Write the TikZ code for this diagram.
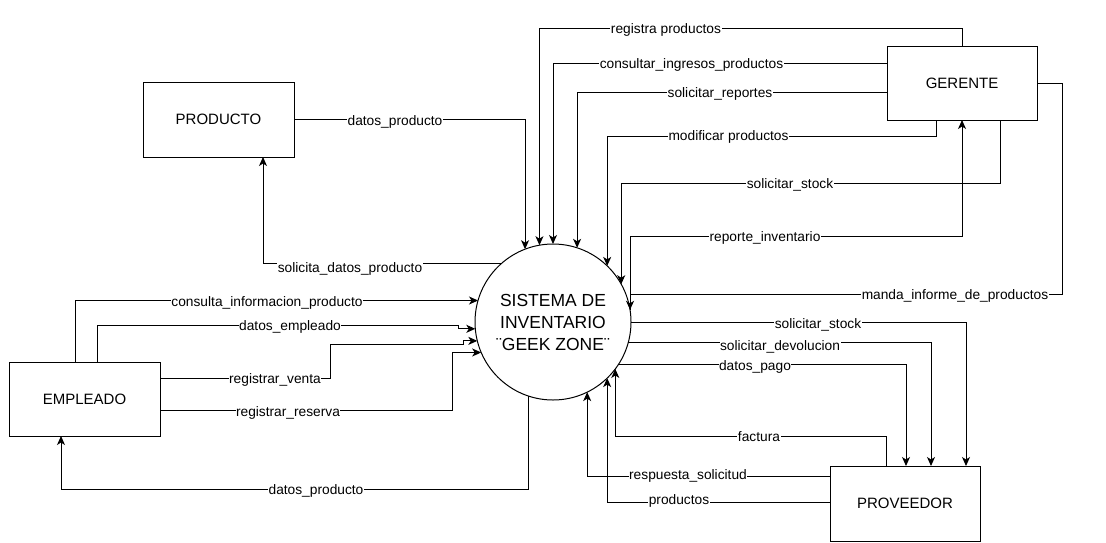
\documentclass[tikz,border=0pt]{standalone}
\usepackage{fontspec}
\setmainfont{Liberation Sans}
\usetikzlibrary{arrows.meta}
\begin{document}
\begin{tikzpicture}[x=1pt,y=-1pt,
  ent/.style={draw=black, line width=1pt, rectangle, minimum width=151pt, minimum height=75pt, inner sep=0pt, outer sep=0pt, font=\fontsize{15}{18}\selectfont},
  proc/.style={draw=black, line width=1pt, circle, minimum size=156pt, inner sep=0pt, outer sep=0pt, align=center, font=\fontsize{17.5}{22}\selectfont},
  flow/.style={draw=black, line width=1pt, -{Stealth[length=9pt,width=8pt,inset=2.5pt]}},
  lbl/.style={fill=white, inner sep=0.5pt, text height=11pt, text depth=0pt, font=\fontsize{13.75}{16}\selectfont}
]
\useasboundingbox (0,0) rectangle (1106,542);
\fill[white] (0,0) rectangle (1106,542);

% entities
\node[ent] (prod) at (218.5,119.5) {PRODUCTO};
\node[ent, minimum width=150pt, minimum height=74pt] (ger) at (962,83) {GERENTE};
\node[ent, minimum height=74pt] (emp) at (84.5,399) {EMPLEADO};
\node[ent, minimum width=150pt] (prov) at (905,503.5) {PROVEEDOR};
\node[proc] (sys) at (553,322) {SISTEMA DE\\INVENTARIO\\¨GEEK ZONE¨};

% PRODUCTO
\draw[flow] (prod.east) -| (sys.111.83);
\draw[flow] (sys.131.96) -| ([xshift=44.5pt]prod.south);

% GERENTE -> sistema
\draw[flow] (ger.north) -- ++(0,-18) -| (sys.100.34);
\draw[flow] ([yshift=20pt]ger.west) -| (sys.90.73);
\draw[flow] ([yshift=-9pt]ger.west) -| (sys.72.08);
\draw[flow] ([xshift=-26pt]ger.south) -- ++(0,16) -| (sys.46.19);
\draw[flow] ([xshift=38pt]ger.south) -- ++(0,63) -| (sys.29.33);
\draw[flow] (sys.9.18) |- ([yshift=-116pt]ger.south) -- (ger.south);
\draw[flow] (ger.east) -- ++(25,0) |- (sys.9.18 |- 0,294) -- (sys.9.18);

% sistema <-> PROVEEDOR
\draw[flow] (sys.-0.73) -| ([xshift=61pt]prov.north);
\draw[flow] (sys.-15.62) -| ([xshift=26pt]prov.north);
\draw[flow] (sys.-33.3) -| ([xshift=1pt]prov.north);
\draw[flow] ([xshift=-19pt]prov.north) -- ++(0,-30) -| (sys.-37.1);
\draw[flow] ([yshift=27pt]prov.west) -| (sys.-64.97);
\draw[flow] ([yshift=1.5pt]prov.west) -| (sys.-46.19);

% EMPLEADO
\draw[flow] ([xshift=-9.5pt]emp.north) |- (sys.164.38);
\draw[flow] ([xshift=12.5pt]emp.north) -- ++(0,-37) -- ++(361,0) |- (sys.185.15);
\draw[flow] ([yshift=21pt]emp.east) -- ++(170,0) -- ++(0,-34) -- ++(133,0) |- (sys.194.1);
\draw[flow] ([yshift=-11pt]emp.east) -- ++(292,0) |- (sys.203.42);
\draw[flow] (sys.-108.7) -- ++(0,93) -| ([xshift=-23.5pt]emp.south);

% labels
\node[lbl] (l1) at (395,120) {datos\_producto};
\node[lbl] (l2) at (350,267) {solicita\_datos\_producto};
\node[lbl] (l3) at (666,28) {registra productos};
\node[lbl] (l4) at (691.5,63) {consultar\_ingresos\_productos};
\node[lbl] (l5) at (720,92) {solicitar\_reportes};
\node[lbl] (l6) at (728.5,135) {modificar productos};
\node[lbl] (l7) at (790,183) {solicitar\_stock};
\node[lbl] (l8) at (765,236) {reporte\_inventario};
\node[lbl] (l9) at (955,294) {manda\_informe\_de\_productos};
\node[lbl] (l10) at (818,323) {solicitar\_stock};
\node[lbl] (l11) at (780,345) {solicitar\_devolucion};
\node[lbl] (l12) at (755,365) {datos\_pago};
\node[lbl] (l13) at (759,436) {factura};
\node[lbl] (l14) at (688,474) {respuesta\_solicitud};
\node[lbl] (l15) at (679,499) {productos};
\node[lbl] (l16) at (267,301) {consulta\_informacion\_producto};
\node[lbl] (l17) at (290,325) {datos\_empleado};
\node[lbl] (l18) at (275,378) {registrar\_venta};
\node[lbl] (l19) at (288,411) {registrar\_reserva};
\node[lbl] (l20) at (316,489) {datos\_producto};
\end{tikzpicture}
\end{document}
